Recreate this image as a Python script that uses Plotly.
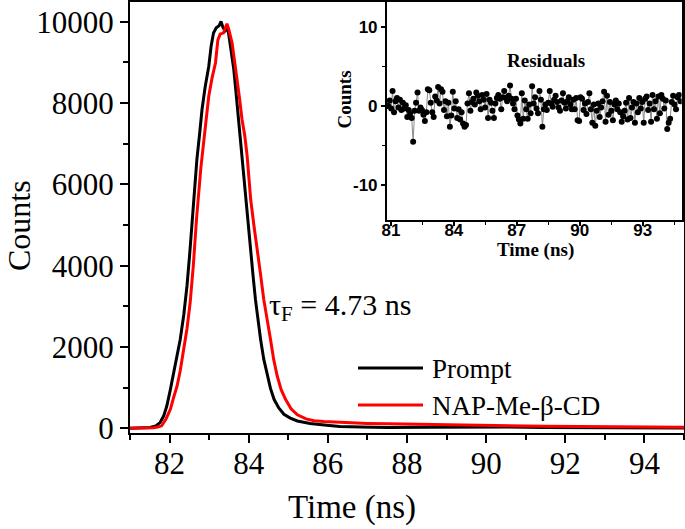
import plotly.graph_objects as go

# ---------------- data ----------------
prompt_t = [81.00, 81.30, 81.51, 81.65, 81.76, 81.85, 81.93, 82.02, 82.10, 82.18,
            82.27, 82.36, 82.44, 82.51, 82.57, 82.63, 82.69, 82.76, 82.82, 82.90,
            82.99, 83.05, 83.11, 83.18, 83.25, 83.30, 83.35, 83.40, 83.45, 83.49,
            83.55, 83.62, 83.68, 83.74, 83.80, 83.86, 83.92, 83.98, 84.05, 84.11,
            84.17, 84.23, 84.30, 84.38, 84.47, 84.55, 84.64, 84.76, 84.89, 85.05,
            85.23, 85.55, 85.91, 86.30, 86.84, 87.50, 88.50, 89.50, 90.50, 91.50,
            92.50, 93.50, 95.00]
prompt_counts = [0, 5, 20, 60, 140, 300, 548, 950, 1370, 1780,
                 2190, 2800, 3500, 4300, 5135, 5850, 6610, 7250, 7840, 8400,
                 8900, 9400, 9720, 9850, 9900, 10007, 9860, 9780, 9850, 9720,
                 9350, 8850, 8250, 7600, 6950, 6300, 5627, 5000, 4398, 3750,
                 3170, 2650, 2187, 1700, 1285, 980, 712, 500, 344, 250,
                 180, 120, 80, 45, 30, 20, 25, 30, 30, 20,
                 15, 10, 5]

nap_t = [81.00, 81.30, 81.59, 81.70, 81.80, 81.91, 82.02, 82.10, 82.19, 82.27,
         82.35, 82.44, 82.52, 82.60, 82.68, 82.73, 82.79, 82.86, 82.92, 82.99,
         83.07, 83.16, 83.22, 83.28, 83.36, 83.41, 83.45, 83.50, 83.58, 83.64,
         83.71, 83.77, 83.83, 83.90, 83.96, 84.01, 84.05, 84.13, 84.22, 84.30,
         84.38, 84.46, 84.55, 84.63, 84.72, 84.82, 84.93, 85.07, 85.23, 85.45,
         85.65, 85.90, 86.20, 86.60, 87.00, 87.50, 88.00, 88.50, 89.00, 89.50,
         90.00, 90.50, 91.00, 91.50, 92.00, 92.50, 93.00, 93.50, 94.00, 95.00]
nap_counts = [0, 5, 15, 30, 60, 230, 467, 750, 1040, 1420,
              1860, 2450, 3087, 4000, 5135, 5790, 6400, 7020, 7600, 8165,
              8600, 8985, 9550, 9700, 9720, 9850, 9951, 9800, 9477, 9050,
              8600, 8100, 7600, 7200, 6700, 6150, 5627, 5000, 4398, 3780,
              3170, 2650, 2187, 1700, 1285, 950, 712, 480, 330, 230,
              185, 165, 150, 135, 120, 110, 100, 92, 85, 78,
              70, 65, 58, 52, 46, 42, 37, 33, 30, 25]

res_t = [80.80, 80.87, 80.94, 81.01, 81.08, 81.15, 81.22, 81.29, 81.36, 81.43,
         81.50, 81.57, 81.64, 81.71, 81.78, 81.85, 81.92, 81.99, 82.06, 82.13,
         82.20, 82.27, 82.34, 82.41, 82.48, 82.55, 82.62, 82.69, 82.76, 82.83,
         82.90, 82.97, 83.04, 83.11, 83.18, 83.25, 83.32, 83.39, 83.46, 83.53,
         83.60, 83.67, 83.74, 83.81, 83.88, 83.95, 84.02, 84.09, 84.16, 84.23,
         84.30, 84.37, 84.44, 84.51, 84.58, 84.65, 84.72, 84.79, 84.86, 84.93,
         85.00, 85.07, 85.14, 85.21, 85.28, 85.35, 85.42, 85.49, 85.56, 85.63,
         85.70, 85.77, 85.84, 85.91, 85.98, 86.05, 86.12, 86.19, 86.26, 86.33,
         86.40, 86.47, 86.54, 86.61, 86.68, 86.75, 86.82, 86.89, 86.96, 87.03,
         87.10, 87.17, 87.24, 87.31, 87.38, 87.45, 87.52, 87.59, 87.66, 87.73,
         87.80, 87.87, 87.94, 88.01, 88.08, 88.15, 88.22, 88.29, 88.36, 88.43,
         88.50, 88.57, 88.64, 88.71, 88.78, 88.85, 88.92, 88.99, 89.06, 89.13,
         89.20, 89.27, 89.34, 89.41, 89.48, 89.55, 89.62, 89.69, 89.76, 89.83,
         89.90, 89.97, 90.04, 90.11, 90.18, 90.25, 90.32, 90.39, 90.46, 90.53,
         90.60, 90.67, 90.74, 90.81, 90.88, 90.95, 91.02, 91.09, 91.16, 91.23,
         91.30, 91.37, 91.44, 91.51, 91.58, 91.65, 91.72, 91.79, 91.86, 91.93,
         92.00, 92.07, 92.14, 92.21, 92.28, 92.35, 92.42, 92.49, 92.56, 92.63,
         92.70, 92.77, 92.84, 92.91, 92.98, 93.05, 93.12, 93.19, 93.26, 93.33,
         93.40, 93.47, 93.54, 93.61, 93.68, 93.75, 93.82, 93.89, 93.96, 94.03,
         94.10, 94.17, 94.24, 94.31, 94.38, 94.45, 94.52, 94.59, 94.66, 94.73,
         94.80]
res_v = [0.0, 0.0, 0.7, -0.3, 1.9, -0.8, 0.6, 1.0, -0.2, 0.8, -0.5, 0.4, -0.3, 0.1,
         -1.4, -0.5, -0.9, -1.5, -4.5, -0.6, 0.4, 1.7, -0.6, -0.2,
         -0.5, -1.1, -1.9, -0.8, 2.1, 2.0, 0.4, -0.8, -1.4, 1.2, 0.7, 2.4, 0.3, 2.1,
         1.8, -0.5, 0.6, -1.3, 0.4, -2.6, -1.2, 1.8, -0.3, 0.6, -1.5, -0.4, -1.7,
         -0.8, -2.2, -2.6,
         -2.4, 0.3, 1.6, -0.6, 0.5, 0.9, 0.2, 1.7, 1.3, 0.6, -0.4, 1.4, 0.8, -0.2,
         1.5, -1.5, 0.8, 0.4, -0.6, -1.5, 0.3, 1.0, 1.4, 0.9,
         -0.4, 1.1, 1.9, 1.0, 0.6, 1.3, 2.6, 0.9, 0.3, -0.4, 0.9, -1.2, -1.7, -2.2,
         1.6, -1.6, 0.7, -0.4, -1.6, 0.2, -0.9, 2.5, 0.3, 1.1, -0.3, -0.9,
         1.9, 0.8, -2.6, -0.4, 0.2, -0.5, 0.4, 1.9, 0.3, -0.1, 0.8, 1.3, 0.5, -0.2,
         -0.6, 0.7, 1.6, 0.4, -0.3, 0.6, 1.1, 0.2, -0.4,
         0.8, -0.4, 1.0, -1.8, -1.9, 1.1, 0.9, -0.5, 0.3, -1.0, 0.5, 1.6, -0.4, -2.1,
         0.2, -2.5, -0.6, 0.3, -1.4, -0.2, 0.6,
         1.8, -2.0, 1.3, -1.1, 0.5, -0.6, -1.8, 0.2, 0.7, -0.4, 0.3, -0.8, -2.0, -1.3,
         -0.6, 0.4, -1.7, 1.0, -1.5, -0.2, 0.5,
         -2.1, 0.3, -0.8, 1.0, -0.3, 0.5, -2.1, 0.9, 1.2, -0.5, 0.3, -2.0, 1.4, -0.4,
         0.6, -1.6, 1.2, -0.9, 1.4, 0.9,
         -0.3, 0.7, -2.9, -2.1, -1.6, 0.5, 1.3, 0.2, -0.4, 1.1, 1.4, 0.6]

series_names = ["Prompt", "NAP-Me-β-CD"]
series_colors = ["#000000", "#ff0000"]
main_xticks = [82, 84, 86, 88, 90, 92, 94]
main_yticks = [0, 2000, 4000, 6000, 8000, 10000]
inset_xticks = [81, 84, 87, 90, 93]
inset_yticks = [-10, 0, 10]
lifetime_label = "τ<sub>F</sub> = 4.73 ns"

# ---------------- figure ----------------
SERIF = "Liberation Serif, Times New Roman, serif"
SANS = "Liberation Sans, Arial, sans-serif"

fig = go.Figure()
fig.add_trace(go.Scatter(x=prompt_t, y=prompt_counts, mode="lines",
                         line=dict(color=series_colors[0], width=3),
                         name=series_names[0], showlegend=False))
fig.add_trace(go.Scatter(x=nap_t, y=nap_counts, mode="lines",
                         line=dict(color=series_colors[1], width=3),
                         name=series_names[1], showlegend=False))
fig.add_trace(go.Scatter(x=res_t, y=res_v, mode="lines+markers",
                         xaxis="x2", yaxis="y2",
                         line=dict(color="#8a8a8a", width=1),
                         marker=dict(color="#000000", size=6),
                         name="Residuals", showlegend=False))

W, H = 685, 529
ML, MR, MT, MB = 130, 1, 2, 96
pw, ph = W - ML - MR, H - MT - MB


def px(x):
    return (x - ML) / pw


def py(y):
    return (H - MB - y) / ph


fig.update_layout(
    width=W, height=H,
    margin=dict(l=ML, r=MR, t=MT, b=MB, pad=0, autoexpand=False),
    paper_bgcolor="white", plot_bgcolor="white",
    font=dict(family=SERIF, color="black"),
    xaxis=dict(range=[81, 95], showgrid=False, zeroline=False, automargin=False,
               showline=True, linewidth=2, linecolor="black", mirror=True,
               ticks="outside", ticklen=8, tickwidth=2, tickcolor="black",
               tickvals=main_xticks, ticktext=[str(v) for v in main_xticks],
               ticklabelstandoff=-6,
               tickfont=dict(family=SERIF, size=31, color="black"),
               minor=dict(dtick=1, tick0=81, ticks="outside", ticklen=5,
                          tickwidth=2, tickcolor="black")),
    yaxis=dict(range=[-116, 10485], showgrid=False, zeroline=False, automargin=False,
               showline=True, linewidth=2, linecolor="black", mirror=True,
               ticks="outside", ticklen=8, tickwidth=2, tickcolor="black",
               tickvals=main_yticks, ticktext=[str(v) for v in main_yticks],
               tickfont=dict(family=SERIF, size=31, color="black"),
               minor=dict(dtick=1000, tick0=0, ticks="outside", ticklen=5,
                          tickwidth=2, tickcolor="black")),
    xaxis2=dict(domain=[px(386.7), px(681.7)], anchor="y2", automargin=False,
                range=[80.8, 94.86], showgrid=False, zeroline=False,
                showline=True, linewidth=1.5, linecolor="black", mirror=True,
                ticks="outside", ticklen=4, tickwidth=1.5, tickcolor="black",
                tickvals=inset_xticks, ticktext=[str(v) for v in inset_xticks],
                ticklabelstandoff=-10,
                tickfont=dict(family=SANS, size=17, color="black", weight="bold"),
                minor=dict(dtick=1.5, tick0=81, ticks="outside", ticklen=3,
                           tickwidth=1.2, tickcolor="black")),
    yaxis2=dict(domain=[py(220), 1.0], anchor="x2", automargin=False,
                range=[-14.37, 13.11], showgrid=False, zeroline=False,
                showline=True, linewidth=1.5, linecolor="black", mirror=True,
                ticks="outside", ticklen=4, tickwidth=1.5, tickcolor="black",
                tickvals=inset_yticks, ticktext=[str(v) for v in inset_yticks],
                tickfont=dict(family=SANS, size=17, color="black", weight="bold"),
                minor=dict(dtick=5, tick0=0, ticks="outside", ticklen=3,
                           tickwidth=1.2, tickcolor="black")),
)

ann = []
# main axis titles
ann.append(dict(text="Time (ns)", x=px(352), y=py(507), xref="paper", yref="paper",
                showarrow=False, font=dict(family=SERIF, size=33, color="black"),
                xanchor="center", yanchor="middle"))
ann.append(dict(text="Counts", x=px(19), y=py(226), xref="paper", yref="paper",
                showarrow=False, textangle=-90,
                font=dict(family=SERIF, size=32, color="black"),
                xanchor="center", yanchor="middle"))
# inset titles
ann.append(dict(text="<b>Time (ns)</b>", x=px(535), y=py(250), xref="paper", yref="paper",
                showarrow=False, font=dict(family=SERIF, size=19, color="black"),
                xanchor="center", yanchor="middle"))
ann.append(dict(text="<b>Counts</b>", x=px(343.5), y=py(100), xref="paper", yref="paper",
                showarrow=False, textangle=-90,
                font=dict(family=SERIF, size=19, color="black"),
                xanchor="center", yanchor="middle"))
ann.append(dict(text="<b>Residuals</b>", x=px(545.7), y=py(60.7), xref="paper", yref="paper",
                showarrow=False, font=dict(family=SERIF, size=19, color="black"),
                xanchor="center", yanchor="middle"))
# lifetime label
ann.append(dict(text=lifetime_label, x=px(267), y=py(307), xref="paper", yref="paper",
                showarrow=False, font=dict(family=SERIF, size=30, color="black"),
                xanchor="left", yanchor="middle"))
# manual legend
legend_rows = [368, 405]
shapes = []
for name, color, yrow in zip(series_names, series_colors, legend_rows):
    shapes.append(dict(type="line", xref="paper", yref="paper",
                       x0=px(358), x1=px(423), y0=py(yrow), y1=py(yrow),
                       line=dict(color=color, width=3)))
    ann.append(dict(text=name, x=px(430), y=py(yrow + 1), xref="paper", yref="paper",
                    showarrow=False, font=dict(family=SERIF, size=27, color="black"),
                    xanchor="left", yanchor="middle"))

fig.update_layout(annotations=ann, shapes=shapes)

fig.write_html("out.html",
               config={"displayModeBar": False},
               post_script="document.body.style.margin='0';document.body.style.padding='0';")
